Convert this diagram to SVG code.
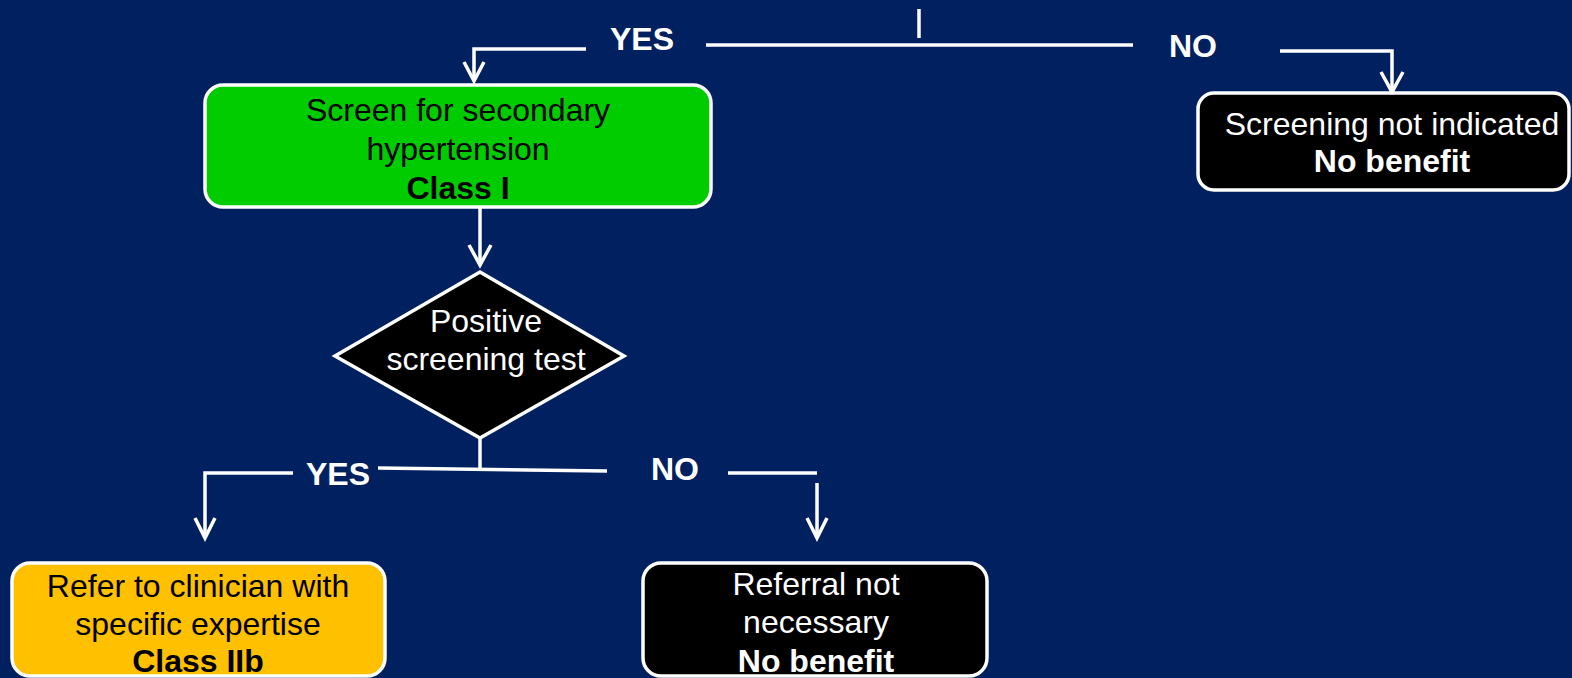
<svg xmlns="http://www.w3.org/2000/svg" width="1572" height="678" viewBox="0 0 1572 678">
<style>
.box{stroke:#fff;stroke-width:3.5}
.t{font-family:"Liberation Sans",Arial,sans-serif;font-size:32px;text-anchor:middle}
.b{font-weight:bold}
.w{fill:#fff}
.k{fill:#000}
.ln{stroke:#fff;stroke-width:3.5;fill:none}
</style>
<rect width="1572" height="678" fill="#002060"/>
<g id="connectors">
<line class="ln" x1="919" y1="9" x2="919" y2="38"/>
<line class="ln" x1="706" y1="45" x2="1133" y2="45" stroke-width="4"/>
<path class="ln" d="M586,49 L474,49 L474,81"/>
<path class="ln" d="M464,62 L474,81 L484,62"/>
<path class="ln" d="M1280,51 L1392,51 L1392,92"/>
<path class="ln" d="M1381,72 L1392,92 L1403,72"/>
<line class="ln" x1="480" y1="208" x2="480" y2="265"/>
<path class="ln" d="M469,245 L480,265 L491,245"/>
<line class="ln" x1="480" y1="438" x2="480" y2="468" stroke-width="6"/>
<line class="ln" x1="378" y1="468" x2="607" y2="471" stroke-width="4"/>
<path class="ln" d="M293,473 L205,473 L205,538"/>
<path class="ln" d="M195,518 L205,538 L215,518"/>
<line class="ln" x1="728" y1="473" x2="817" y2="473"/>
<line class="ln" x1="817" y1="483" x2="817" y2="538"/>
<path class="ln" d="M807,518 L817,538 L827,518"/>
<text class="t b w" x="642" y="50">YES</text>
<text class="t b w" x="1193" y="57">NO</text>
<text class="t b w" x="338" y="485">YES</text>
<text class="t b w" x="675" y="480">NO</text>
</g>
<g id="screen">
<rect class="box" x="205" y="85" width="506" height="122" rx="18" fill="#00CC00"/>
<text class="t k" x="458" y="121">Screen for secondary</text>
<text class="t k" x="458" y="160">hypertension</text>
<text class="t b k" x="458" y="199">Class I</text>
</g>
<g id="not-indicated">
<rect class="box" x="1198" y="93" width="371" height="97" rx="16" fill="#000"/>
<text class="t w" x="1392" y="135">Screening not indicated</text>
<text class="t b w" x="1392" y="172">No benefit</text>
</g>
<g id="positive">
<polygon class="box" points="480,272 624,356 480,438 335,356" fill="#000"/>
<text class="t w" x="486" y="332">Positive</text>
<text class="t w" x="486" y="370">screening test</text>
</g>
<g id="refer">
<rect class="box" x="12" y="563" width="373" height="113" rx="18" fill="#FFC000"/>
<text class="t k" x="198" y="597">Refer to clinician with</text>
<text class="t k" x="198" y="635">specific expertise</text>
<text class="t b k" x="198" y="672">Class IIb</text>
</g>
<g id="no-referral">
<rect class="box" x="643" y="563" width="344" height="113" rx="18" fill="#000"/>
<text class="t w" x="816" y="595">Referral not</text>
<text class="t w" x="816" y="633">necessary</text>
<text class="t b w" x="816" y="672">No benefit</text>
</g>
</svg>
